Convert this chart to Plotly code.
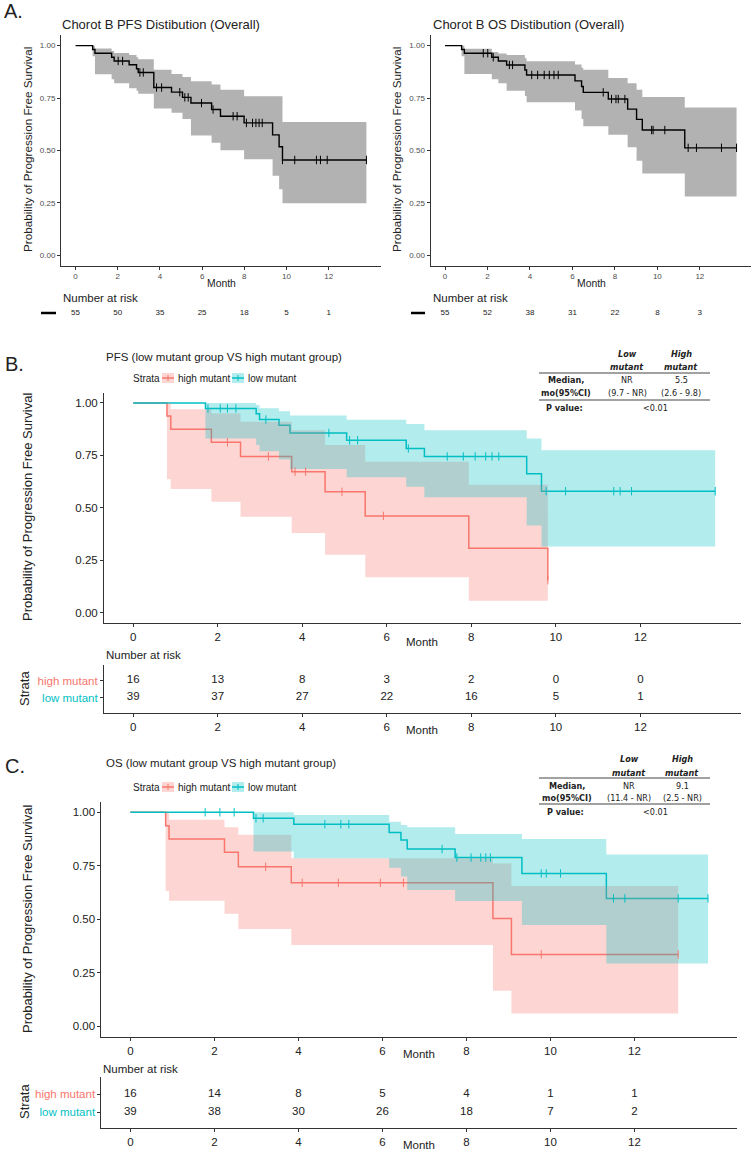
import plotly.graph_objects as go

# ---------------- data ----------------
month_ticks = [0, 2, 4, 6, 8, 10, 12]
prob_ticks = [0, 0.25, 0.5, 0.75, 1.0]
prob_labels = ["0.00", "0.25", "0.50", "0.75", "1.00"]
risk_times = [0, 2, 4, 6, 8, 10, 12]

# Panel A left: PFS overall
pfs_all_time = [0, 0.81, 0.92, 1.71, 1.83, 2.54, 2.89, 2.97, 3.71, 4.55, 5.07, 5.47, 6.45, 6.87, 7.99, 9.34, 9.65, 9.81, 13.79]
pfs_all_surv = [1.0, 0.982, 0.964, 0.945, 0.927, 0.909, 0.890, 0.872, 0.800, 0.778, 0.753, 0.726, 0.695, 0.663, 0.631, 0.574, 0.517, 0.454, 0.454]
pfs_all_upper = [1.0, 1.0, 0.987, 0.975, 0.965, 0.955, 0.945, 0.935, 0.885, 0.865, 0.85, 0.83, 0.815, 0.79, 0.758, 0.758, 0.758, 0.636, 0.636]
pfs_all_lower = [1.0, 0.95, 0.864, 0.84, 0.82, 0.797, 0.785, 0.77, 0.70, 0.68, 0.65, 0.571, 0.536, 0.50, 0.457, 0.379, 0.314, 0.247, 0.247]
pfs_all_cens = [2.02, 2.23, 3.05, 3.21, 3.84, 4.08, 4.94, 5.18, 5.34, 5.97, 6.52, 7.47, 7.66, 8.1, 8.39, 8.55, 8.7, 8.85, 9.81, 10.39, 11.42, 11.61, 11.93, 13.79]
pfs_all_risk = [55, 50, 35, 25, 18, 5, 1]

# Panel A right: OS overall
os_all_time = [0, 0.78, 0.91, 2.2, 2.51, 2.9, 3.76, 3.84, 6.12, 6.43, 6.51, 7.69, 8.6, 9.02, 9.29, 11.29, 13.73]
os_all_surv = [1.0, 0.982, 0.964, 0.945, 0.927, 0.908, 0.884, 0.860, 0.832, 0.805, 0.777, 0.745, 0.697, 0.648, 0.597, 0.512, 0.512]
os_all_upper = [1.0, 1.0, 0.985, 0.97, 0.962, 0.955, 0.94, 0.925, 0.91, 0.895, 0.885, 0.845, 0.82, 0.79, 0.755, 0.705, 0.705]
os_all_lower = [1.0, 0.95, 0.865, 0.84, 0.82, 0.785, 0.76, 0.73, 0.69, 0.65, 0.615, 0.575, 0.515, 0.45, 0.39, 0.28, 0.28]
os_all_cens = [1.8, 2.01, 2.27, 3.03, 3.18, 4.08, 4.36, 4.67, 4.91, 5.13, 5.33, 7.45, 7.84, 8.05, 8.16, 8.47, 9.73, 9.8, 10.35, 11.45, 11.84, 13.02, 13.73]
os_all_risk = [55, 52, 38, 31, 22, 8, 3]

# Panel B: PFS by group
pfs_high_time = [0, 0.8, 0.89, 1.85, 2.54, 3.75, 4.54, 5.49, 7.94, 9.81]
pfs_high_surv = [1.0, 0.9375, 0.875, 0.8125, 0.745, 0.672, 0.576, 0.461, 0.307, 0.154]
pfs_high_upper = [1.0, 1.0, 0.97, 0.95, 0.91, 0.87, 0.80, 0.72, 0.61, 0.61]
pfs_high_lower = [1.0, 0.636, 0.59, 0.529, 0.457, 0.38, 0.276, 0.168, 0.056, 0.056]
pfs_high_cens = [2.23, 3.2, 3.83, 4.08, 4.94, 5.92, 9.81]
pfs_high_risk = [16, 13, 8, 3, 2, 0, 0]

pfs_low_time = [0, 1.71, 2.91, 2.99, 3.45, 3.71, 5.05, 6.46, 6.89, 9.31, 9.66, 13.77]
pfs_low_surv = [1.0, 0.974, 0.948, 0.921, 0.894, 0.857, 0.822, 0.783, 0.745, 0.662, 0.579, 0.579]
pfs_low_upper = [1.0, 1.0, 0.99, 0.975, 0.96, 0.94, 0.92, 0.90, 0.87, 0.83, 0.775, 0.775]
pfs_low_lower = [1.0, 0.83, 0.80, 0.77, 0.73, 0.685, 0.645, 0.60, 0.55, 0.415, 0.315, 0.315]
pfs_low_cens = [1.77, 2.06, 2.23, 2.43, 3.14, 4.63, 5.12, 5.31, 6.51, 7.43, 7.81, 8.09, 8.34, 8.49, 8.65, 9.77, 10.23, 11.37, 11.52, 11.79, 13.77]
pfs_low_risk = [39, 37, 27, 22, 16, 5, 1]

# Panel C: OS by group
os_high_time = [0, 0.84, 0.92, 2.24, 2.57, 3.83, 8.63, 9.07, 13.04]
os_high_surv = [1.0, 0.9375, 0.875, 0.8125, 0.745, 0.67, 0.503, 0.335, 0.335]
os_high_upper = [1.0, 1.0, 0.965, 0.93, 0.895, 0.785, 0.76, 0.655, 0.655]
os_high_lower = [1.0, 0.632, 0.586, 0.525, 0.454, 0.379, 0.165, 0.059, 0.059]
os_high_cens = [3.22, 4.09, 4.95, 5.95, 6.5, 9.78, 13.04]
os_high_risk = [16, 14, 8, 5, 4, 1, 1]

os_low_time = [0, 2.93, 3.89, 6.16, 6.44, 6.59, 7.73, 9.32, 11.33, 13.75]
os_low_surv = [1.0, 0.972, 0.944, 0.906, 0.87, 0.828, 0.788, 0.714, 0.597, 0.597]
os_low_upper = [1.0, 1.0, 0.987, 0.956, 0.94, 0.93, 0.898, 0.875, 0.803, 0.803]
os_low_lower = [1.0, 0.816, 0.785, 0.74, 0.70, 0.636, 0.585, 0.473, 0.293, 0.293]
os_low_cens = [1.78, 2.13, 2.47, 2.99, 3.16, 4.63, 5.01, 5.2, 7.42, 7.77, 8.11, 8.34, 8.46, 8.57, 9.78, 9.9, 10.24, 11.5, 11.77, 13.04, 13.75]
os_low_risk = [39, 38, 30, 26, 18, 7, 2]

strata_names = ["high mutant", "low mutant"]

# ---------------- styling ----------------
W, H = 756, 1150
FONT = "Liberation Sans, Arial, sans-serif"
TFONT = "Liberation Sans Narrow, DejaVu Sans Condensed, Liberation Sans, sans-serif"
RED, CYAN = "#F8766D", "#00BFC4"
RED_FILL, CYAN_FILL = "rgba(248,118,109,0.3)", "rgba(0,191,196,0.3)"
BLACK_FILL = "rgba(0,0,0,0.3)"
AX = "#333333"


def px(x):
    return x / W


def py(y):
    return 1 - y / H


def step_at(times, surv, t):
    val = surv[0]
    for ti, si in zip(times, surv):
        if ti <= t + 1e-9:
            val = si
        else:
            break
    return val


fig = go.Figure()


def add_lines(curves, xa, ya, lw):
    for times, surv, color in curves:
        fig.add_trace(go.Scatter(x=times, y=surv, mode="lines", xaxis=xa, yaxis=ya,
                                 line=dict(color=color, width=lw, shape="hv"), hoverinfo="skip"))


def add_bands(bands, xa, ya):
    for times, lower, upper, fill in bands:
        fig.add_trace(go.Scatter(x=times, y=lower, mode="lines", xaxis=xa, yaxis=ya,
                                 line=dict(width=0, shape="hv"), hoverinfo="skip"))
        fig.add_trace(go.Scatter(x=times, y=upper, mode="lines", xaxis=xa, yaxis=ya,
                                 line=dict(width=0, shape="hv"), fill="tonexty",
                                 fillcolor=fill, hoverinfo="skip"))


def add_cens(cens_list, xa, ya, size):
    for times, surv, cens, color in cens_list:
        fig.add_trace(go.Scatter(x=cens, y=[step_at(times, surv, c) for c in cens],
                                 mode="markers", xaxis=xa, yaxis=ya, hoverinfo="skip",
                                 marker=dict(symbol="line-ns", size=size,
                                             line=dict(color=color, width=1))))


# Panel A
add_lines([(pfs_all_time, pfs_all_surv, "black")], "x", "y", 1.4)
add_bands([(pfs_all_time, pfs_all_lower, pfs_all_upper, BLACK_FILL)], "x", "y")
add_cens([(pfs_all_time, pfs_all_surv, pfs_all_cens, "black")], "x", "y", 6)

add_lines([(os_all_time, os_all_surv, "black")], "x2", "y2", 1.4)
add_bands([(os_all_time, os_all_lower, os_all_upper, BLACK_FILL)], "x2", "y2")
add_cens([(os_all_time, os_all_surv, os_all_cens, "black")], "x2", "y2", 6)

# Panel B
add_lines([(pfs_high_time, pfs_high_surv, RED), (pfs_low_time, pfs_low_surv, CYAN)], "x3", "y3", 1.5)
add_bands([(pfs_high_time, pfs_high_lower, pfs_high_upper, RED_FILL),
           (pfs_low_time, pfs_low_lower, pfs_low_upper, CYAN_FILL)], "x3", "y3")
add_cens([(pfs_high_time, pfs_high_surv, pfs_high_cens, RED),
          (pfs_low_time, pfs_low_surv, pfs_low_cens, CYAN)], "x3", "y3", 6)

# Panel C
add_lines([(os_high_time, os_high_surv, RED), (os_low_time, os_low_surv, CYAN)], "x5", "y5", 1.5)
add_bands([(os_high_time, os_high_lower, os_high_upper, RED_FILL),
           (os_low_time, os_low_lower, os_low_upper, CYAN_FILL)], "x5", "y5")
add_cens([(os_high_time, os_high_surv, os_high_cens, RED),
          (os_low_time, os_low_surv, os_low_cens, CYAN)], "x5", "y5", 6)

# Risk tables
def add_risk(values, row, xa, ya, size):
    fig.add_trace(go.Scatter(x=risk_times, y=[row] * len(risk_times), mode="text",
                             text=[str(v) for v in values], xaxis=xa, yaxis=ya,
                             textfont=dict(size=size, color="#222", family=FONT), hoverinfo="skip"))


add_risk(pfs_all_risk, 1, "x7", "y7", 8)
add_risk(os_all_risk, 1, "x8", "y8", 8)
add_risk(pfs_high_risk, 2, "x4", "y4", 11.5)
add_risk(pfs_low_risk, 1, "x4", "y4", 11.5)
add_risk(os_high_risk, 2, "x6", "y6", 11.5)
add_risk(os_low_risk, 1, "x6", "y6", 11.5)


# ---------------- axes ----------------
def xaxis(dom, rng, anchor, size, color, show=True, labels=True):
    return dict(domain=[px(dom[0]), px(dom[1])], range=rng, anchor=anchor, visible=show,
                tickvals=month_ticks, ticktext=[str(t) for t in month_ticks], showticklabels=labels,
                ticks="outside", ticklen=3, tickwidth=1, tickcolor=AX, showline=True, linecolor=AX,
                linewidth=1, showgrid=False, zeroline=False,
                tickfont=dict(size=size, color=color, family=FONT))


def yaxis(dom, anchor, size, color):
    return dict(domain=[py(dom[1]), py(dom[0])], range=[-0.05, 1.05], anchor=anchor,
                tickvals=prob_ticks, ticktext=prob_labels, ticks="outside", ticklen=3, tickwidth=1,
                tickcolor=AX, showline=True, linecolor=AX, linewidth=1, showgrid=False,
                zeroline=False, tickfont=dict(size=size, color=color, family=FONT))


def riskyaxis(dom, rng, anchor):
    return dict(domain=[py(dom[1]), py(dom[0])], range=rng, anchor=anchor, tickvals=[2, 1],
                ticktext=['<span style="color:%s">%s</span>' % (RED, strata_names[0]),
                          '<span style="color:%s">%s</span>' % (CYAN, strata_names[1])],
                ticks="outside", ticklen=3, tickwidth=1, tickcolor=AX, showline=True,
                linecolor=AX, linewidth=1, showgrid=False, zeroline=False,
                tickfont=dict(size=11.5, family=FONT))


layout_axes = dict(
    xaxis=xaxis((61, 381), [-0.69, 14.48], "y", 8, "#4d4d4d"),
    yaxis=yaxis((35.2, 265.5), "x", 8, "#4d4d4d"),
    xaxis2=xaxis((430.5, 751), [-0.686, 14.41], "y2", 8, "#4d4d4d"),
    yaxis2=yaxis((35.2, 265.5), "x2", 8, "#4d4d4d"),
    xaxis3=xaxis((104, 741), [-0.69, 14.38], "y3", 11.5, "#222"),
    yaxis3=yaxis((392.5, 623), "x3", 11.5, "#222"),
    xaxis4=xaxis((104, 741), [-0.69, 14.38], "y4", 11.5, "#222"),
    yaxis4=riskyaxis((665, 713), [0.088, 2.91], "x4"),
    xaxis5=xaxis((101.4, 737), [-0.69, 14.44], "y5", 11.5, "#222"),
    yaxis5=yaxis((801.6, 1036.7), "x5", 11.5, "#222"),
    xaxis6=xaxis((101.4, 737), [-0.69, 14.44], "y6", 11.5, "#222"),
    yaxis6=riskyaxis((1077, 1127.7), [0.144, 2.96], "x6"),
    xaxis7=dict(domain=[px(61), px(381)], range=[-0.69, 14.48], anchor="y7", visible=False),
    yaxis7=dict(domain=[py(320), py(306)], range=[0, 2], anchor="x7", visible=False),
    xaxis8=dict(domain=[px(430.5), px(751)], range=[-0.686, 14.41], anchor="y8", visible=False),
    yaxis8=dict(domain=[py(320), py(306)], range=[0, 2], anchor="x8", visible=False),
)

# ---------------- annotations ----------------
anns = []


def ann(text, x, y, size, xanchor="center", color="#222", angle=0, family=FONT):
    anns.append(dict(text=text, x=px(x), y=py(y), xref="paper", yref="paper", showarrow=False,
                     xanchor=xanchor, yanchor="middle", textangle=angle,
                     font=dict(size=size, color=color, family=family)))


ylab = "Probability of Progression Free Survival"
# Panel A
ann("A.", 2, 11, 20, "left")
ann("Chorot B PFS Distibution (Overall)", 60, 25, 13, "left")
ann("Chorot B OS Distibution (Overall)", 431, 25, 13, "left")
ann(ylab, 27, 150, 11.7, angle=-90)
ann(ylab, 396, 150, 11.7, angle=-90)
ann("Month", 221, 284, 10.4)
ann("Month", 591, 284, 10.4)
ann("Number at risk", 61, 298, 11.5, "left")
ann("Number at risk", 431, 298, 11.5, "left")

shapes = []
for x0, x1 in [(41, 56), (411, 425)]:
    shapes.append(dict(type="line", xref="paper", yref="paper", x0=px(x0), x1=px(x1),
                       y0=py(313), y1=py(313), line=dict(color="black", width=2.5)))


def group_panel(letter, ly, title, ty, legy, mid_y, month_y, nrisk_y, strata_y, rmonth_y,
                xmid, xleft, tab, medians, cis):
    ann(letter, 3, ly, 20, "left")
    ann(title, 104, ty, 11.5, "left")
    # legend
    ann("Strata", 131, legy, 10, "left")
    for (bx0, bx1), color, fill, label, lx in [((162, 174), RED, RED_FILL, strata_names[0], 176),
                                               ((232, 244), CYAN, CYAN_FILL, strata_names[1], 246)]:
        shapes.append(dict(type="rect", xref="paper", yref="paper", x0=px(bx0), x1=px(bx1),
                           y0=py(legy + 5), y1=py(legy - 5), fillcolor=fill, line=dict(width=0)))
        shapes.append(dict(type="line", xref="paper", yref="paper", x0=px(bx0), x1=px(bx1),
                           y0=py(legy), y1=py(legy), line=dict(color=color, width=1.5)))
        shapes.append(dict(type="line", xref="paper", yref="paper", x0=px((bx0 + bx1) / 2),
                           x1=px((bx0 + bx1) / 2), y0=py(legy - 3), y1=py(legy + 3),
                           line=dict(color=color, width=1)))
        ann(label, lx, legy, 10, "left")
    ann(ylab, 27, mid_y, 13, angle=-90)
    ann("Month", xmid, month_y, 11.5)
    ann("Number at risk", xleft, nrisk_y, 11.5, "left")
    ann("Strata", 24, strata_y, 13, angle=-90)
    ann("Month", xmid, rmonth_y, 11.5)
    # table
    h1, h2, l1, r1, r2, l2, pv, cL, cH, cRow = tab
    ann("<b><i>Low</i></b>", cL, h1, 9, family=TFONT)
    ann("<b><i>mutant</i></b>", cL, h2, 9, family=TFONT)
    ann("<b><i>High</i></b>", cH, h1, 9, family=TFONT)
    ann("<b><i>mutant</i></b>", cH, h2, 9, family=TFONT)
    ann("<b>Median,</b>", cRow, r1, 9, family=TFONT)
    ann("<b>mo(95%CI)</b>", cRow, r2, 9, family=TFONT)
    ann(medians[0], cL, r1, 9, family=TFONT)
    ann(cis[0], cL, r2, 9, family=TFONT)
    ann(medians[1], cH, r1, 9, family=TFONT)
    ann(cis[1], cH, r2, 9, family=TFONT)
    ann("<b>P value:</b>", cRow - 2, pv, 9, family=TFONT)
    ann("<0.01", 655, pv, 9, family=TFONT)
    for yy in (l1, l2):
        shapes.append(dict(type="line", xref="paper", yref="paper", x0=px(539), x1=px(710),
                           y0=py(yy), y1=py(yy), line=dict(color="#444", width=1)))


group_panel("B.", 364, "PFS (low mutant group VS high mutant group)", 357, 378, 507, 642, 655, 689,
            730, 422, 104, (354, 367, 373, 380, 393, 400, 408, 627, 681, 566),
            ("NR", "5.5"), ("(9.7 - NR)", "(2.6 - 9.8)"))
group_panel("C.", 766, "OS (low mutant group VS high mutant group)", 763, 787, 919, 1054, 1069, 1102,
            1145, 419, 101, (759, 772.7, 778, 786, 798, 804, 812, 629, 682, 567),
            ("NR", "9.1"), ("(11.4 - NR)", "(2.5 - NR)"))

fig.update_layout(width=W, height=H, margin=dict(l=0, r=0, t=0, b=0), showlegend=False,
                  plot_bgcolor="white", paper_bgcolor="white", font=dict(family=FONT),
                  annotations=anns, shapes=shapes, **layout_axes)

fig.write_html("out.html", config={"displayModeBar": False},
               post_script="document.body.style.margin='0px';")
